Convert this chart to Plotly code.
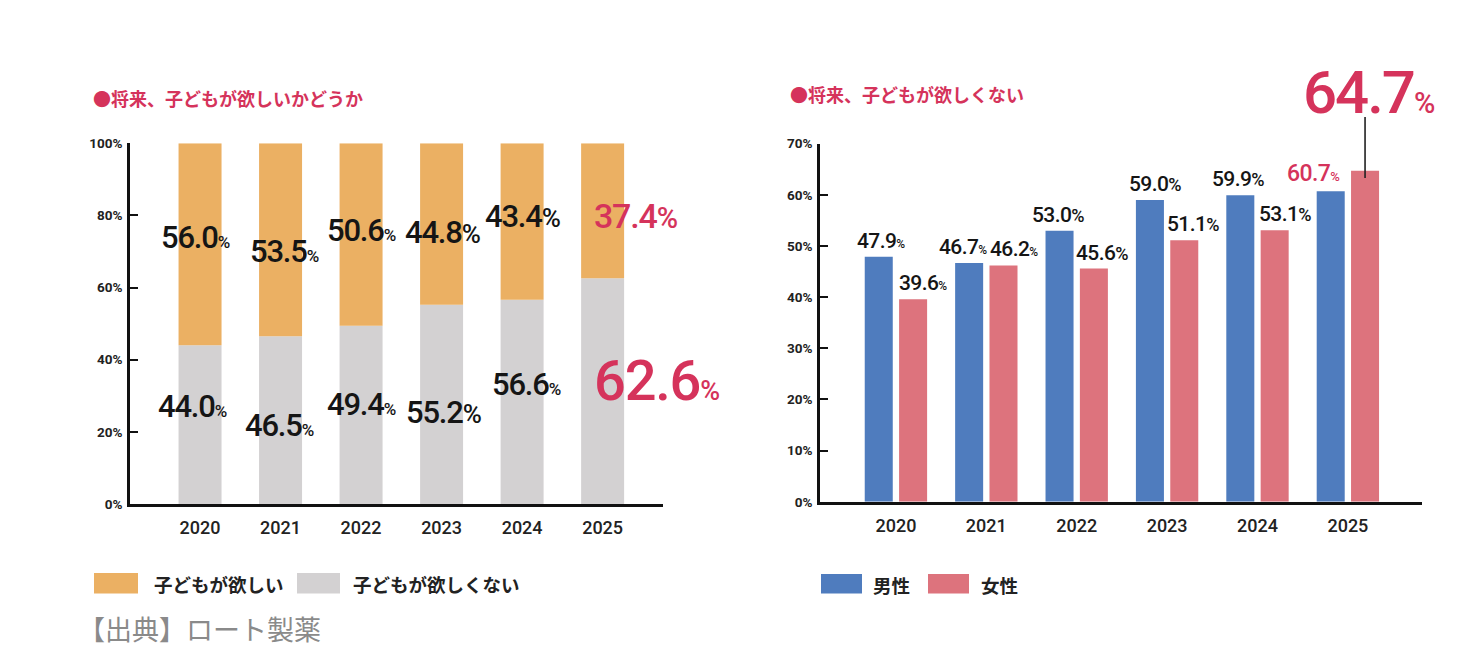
import plotly.graph_objects as go

# ---------------- data ----------------
years = ["2020", "2021", "2022", "2023", "2024", "2025"]
want = [56.0, 53.5, 50.6, 44.8, 43.4, 37.4]        # 子どもが欲しい
not_want = [44.0, 46.5, 49.4, 55.2, 56.6, 62.6]    # 子どもが欲しくない
male = [47.9, 46.7, 53.0, 59.0, 59.9, 60.7]        # 男性（欲しくない）
female = [39.6, 46.2, 45.6, 51.1, 53.1, 64.7]      # 女性（欲しくない）

# ---------------- style ----------------
W, H = 1459, 665
ORANGE = "#EBB063"
GRAY = "#D3D1D2"
BLUE = "#4F7CBE"
PINK = "#DD737D"
RED = "#D5335B"
INK = "#151515"
NUM = "Roboto, sans-serif"
JP = "Noto Sans CJK JP, sans-serif"


def px(x):
    return x / W


def py(y):
    return 1 - y / H


def lab(v, size, ratio, ls=-1.2):
    return (f"<span style='letter-spacing:{ls}px'>{v:.1f}</span>"
            f"<span style='font-size:{round(size * ratio)}px'>%</span>")


idx = list(range(len(years)))

fig = go.Figure()
fig.add_bar(x=idx, y=not_want, xaxis="x", yaxis="y", marker_color=GRAY,
            marker_line_width=0, width=0.534, offset=-0.267,
            name="子どもが欲しくない", showlegend=False)
fig.add_bar(x=idx, y=want, base=not_want, xaxis="x", yaxis="y",
            marker_color=ORANGE, marker_line_width=0, width=0.534,
            offset=-0.267, name="子どもが欲しい", showlegend=False)
fig.add_bar(x=idx, y=male, xaxis="x2", yaxis="y2", marker_color=BLUE,
            marker_line_width=0, width=0.31, offset=-0.345, name="男性",
            showlegend=False)
fig.add_bar(x=idx, y=female, xaxis="x2", yaxis="y2", marker_color=PINK,
            marker_line_width=0, width=0.31, offset=0.035, name="女性",
            showlegend=False)

ann = []

# ---- left chart labels ----
# pixel nudges / sizes for each label (style only)
g_dx = [-8, -1, 0, 2, 4, 54]
g_dy = [18, -5, 10, -8, 17, 10]
g_size = [31, 31, 31, 31, 31, 56]
g_ratio = [0.55, 0.55, 0.55, 0.85, 0.55, 0.48]
o_dx = [-5, 4, 0, 1, 1, 33]
o_dy = [7, -12, 4, -8, 5, -5]
o_size = [31, 31, 31, 31, 31, 34]
o_ratio = [0.55, 0.55, 0.55, 0.85, 0.85, 0.85]
for i in idx:
    col = RED if i == len(idx) - 1 else INK
    ann.append(dict(x=i, y=not_want[i] / 2, xref="x", yref="y",
                    text=lab(not_want[i], g_size[i], g_ratio[i]),
                    showarrow=False, xshift=g_dx[i], yshift=g_dy[i],
                    font=dict(family=NUM, size=g_size[i], color=col, weight=500)))
    ann.append(dict(x=i, y=not_want[i] + want[i] / 2, xref="x", yref="y",
                    text=lab(want[i], o_size[i], o_ratio[i]),
                    showarrow=False, xshift=o_dx[i], yshift=o_dy[i],
                    font=dict(family=NUM, size=o_size[i], color=col, weight=500)))

# ---- right chart labels ----
m_dx = [2, -6, -1, 6, -2, -17]
m_ratio = [0.55, 0.55, 0.85, 0.85, 0.85, 0.55]
f_dx = [10, 11, 9, 9, 11]
f_ratio = [0.55, 0.55, 0.85, 0.85, 0.85]
for i in idx:
    last = i == len(idx) - 1
    sz = 23 if last else 21
    ann.append(dict(x=i - 0.19, y=male[i], xref="x2", yref="y2",
                    text=lab(male[i], sz, m_ratio[i], -0.6), showarrow=False,
                    yanchor="bottom", xshift=m_dx[i], yshift=2,
                    font=dict(family=NUM, size=sz, color=RED if last else INK,
                              weight=500)))
    if not last:
        ann.append(dict(x=i + 0.19, y=female[i], xref="x2", yref="y2",
                        text=lab(female[i], 21, f_ratio[i], -0.6),
                        showarrow=False, yanchor="bottom", xshift=f_dx[i],
                        yshift=2,
                        font=dict(family=NUM, size=21, color=INK, weight=500)))

# 2025 female: big label with leader line
last = len(idx) - 1
ann.append(dict(x=last + 0.19, y=female[last] - 1.4, xref="x2", yref="y2",
                text=" ", showarrow=True, arrowhead=0, arrowwidth=1.6,
                arrowcolor="#222222", ax=0, ay=-63, font=dict(size=1)))
ann.append(dict(x=last + 0.23, y=py(87), xref="x2", yref="paper",
                yanchor="middle", text=lab(female[last], 60, 0.48, -2),
                showarrow=False,
                font=dict(family=NUM, size=60, color=RED, weight=500)))

# ---- titles ----
ann.append(dict(x=px(91), y=py(92), xref="paper", yref="paper",
                xanchor="left", yanchor="middle", showarrow=False,
                text="●将来、子どもが欲しいかどうか",
                font=dict(family=JP, size=18, color=RED, weight=700)))
ann.append(dict(x=px(788), y=py(88), xref="paper", yref="paper",
                xanchor="left", yanchor="middle", showarrow=False,
                text="●将来、子どもが欲しくない",
                font=dict(family=JP, size=18, color=RED, weight=700)))

# ---- legends (swatch + text) ----
shapes = []
legend_items = [
    (94, 138, 579, 600, ORANGE, 152, "子どもが欲しい"),
    (297, 340, 579, 600, GRAY, 351, "子どもが欲しくない"),
    (821, 862, 580, 600, BLUE, 871, "男性"),
    (928, 969, 580, 600, PINK, 979, "女性"),
]
for x0, x1, y0, y1, c, tx, t in legend_items:
    shapes.append(dict(type="rect", xref="paper", yref="paper",
                       x0=px(x0), x1=px(x1), y0=py(y1), y1=py(y0),
                       fillcolor=c, line_width=0))
    ann.append(dict(x=px(tx), y=py((y0 + y1) / 2 + 1), xref="paper",
                    yref="paper", xanchor="left", yanchor="middle",
                    showarrow=False, text=t,
                    font=dict(family=JP, size=18.5, color="#222222", weight=700)))

# ---- source ----
ann.append(dict(x=px(76), y=py(636), xref="paper", yref="paper",
                xanchor="left", yanchor="middle", showarrow=False,
                text="【出典】ロート製薬",
                font=dict(family=JP, size=27, color="#8A8A8A")))

axis_common = dict(showline=True, linecolor="#111111", linewidth=2.5,
                   showgrid=False, zeroline=False, fixedrange=True)
xfont = dict(family="Roboto, sans-serif", size=18, color="#222222", weight=500)
yfont = dict(family="Roboto, sans-serif", size=13.5, color="#222222", weight=700)

fig.update_layout(
    width=W, height=H,
    margin=dict(l=0, r=0, t=0, b=0),
    paper_bgcolor="white", plot_bgcolor="white",
    showlegend=False,
    xaxis=dict(domain=[px(130), px(663)], range=[-0.87, 5.75],
               tickvals=idx, ticktext=years, ticks="", anchor="y",
               tickfont=xfont, ticklabelstandoff=6, **axis_common),
    yaxis=dict(domain=[py(508.3), py(138.5)], range=[0, 100], dtick=20,
               ticksuffix="%", ticks="inside", ticklen=8, tickwidth=2,
               tickcolor="#111111", anchor="x", tickfont=yfont,
               ticklabelstandoff=2, **axis_common),
    xaxis2=dict(domain=[px(820), px(1422)], range=[-0.84, 5.82],
                tickvals=idx, ticktext=years, ticks="", anchor="y2",
                tickfont=xfont, ticklabelstandoff=6, **axis_common),
    yaxis2=dict(domain=[py(506), py(139)], range=[0, 70], dtick=10,
                ticksuffix="%", ticks="inside", ticklen=8, tickwidth=2,
                tickcolor="#111111", anchor="x2", tickfont=yfont,
                ticklabelstandoff=2, **axis_common),
    annotations=ann,
    shapes=shapes,
)

fig.write_html("out.html")
